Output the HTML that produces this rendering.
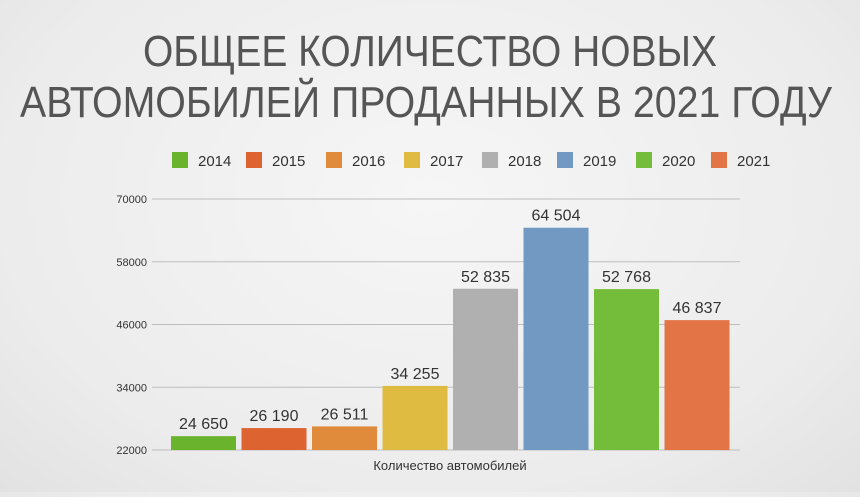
<!DOCTYPE html>
<html><head><meta charset="utf-8"><style>
html,body{margin:0;padding:0;}
body{width:860px;height:492px;overflow:hidden;background:radial-gradient(ellipse at 50% 40%,#f6f6f6 0%,#ececec 70%,#e2e2e2 100%);font-family:"Liberation Sans",sans-serif;}
</style></head><body>
<svg id="chart" width="860" height="492" xmlns="http://www.w3.org/2000/svg">
<g fill="#555" font-family="Liberation Sans, sans-serif" font-size="44">
<text x="143" y="66" textLength="574" lengthAdjust="spacingAndGlyphs">ОБЩЕЕ КОЛИЧЕСТВО НОВЫХ</text>
<text x="20" y="117" textLength="812" lengthAdjust="spacingAndGlyphs">АВТОМОБИЛЕЙ ПРОДАННЫХ В 2021 ГОДУ</text>
</g>
<g id="grid"></g>
<g id="bars"></g>
<g id="legend"></g>
<text x="450" y="470" text-anchor="middle" font-size="13" fill="#333">Количество автомобилей</text>
</svg>
<script>
const categories=["2014","2015","2016","2017","2018","2019","2020","2021"];
const values=[24650,26190,26511,34255,52835,64504,52768,46837];
const labels=["24 650","26 190","26 511","34 255","52 835","64 504","52 768","46 837"];
const ticks=[22000,34000,46000,58000,70000];
const colors=["#6ab42d","#dd6330","#e08a3c","#e0bb42","#b0b0b0","#7199c2","#74bd3a","#e27446"];
const legendX=[172,246,326,404,482,557,636,711];
const NS="http://www.w3.org/2000/svg";
const y0=450,y1=199,vmin=22000,vmax=70000;
const y=v=>y0-(v-vmin)/(vmax-vmin)*(y0-y1);
const bx=i=>171+i*70.5;
const bw=65;
function mk(t,a,p){const e=document.createElementNS(NS,t);for(const k in a)e.setAttribute(k,a[k]);p.appendChild(e);return e;}
const grid=document.getElementById('grid');
ticks.forEach(t=>{
 const l=mk('line',{x1:152,x2:740,y1:y(t),y2:y(t),stroke:'#bdbdbd','stroke-width':1},grid);
 
 
 const tx=mk('text',{x:147,y:y(t)+4,'text-anchor':'end','font-size':11,fill:'#333'},grid);
 tx.textContent=t;
 
 
});
const bars=document.getElementById('bars');
values.forEach((v,i)=>{
 const r=mk('rect',{x:bx(i),y:y(v),width:bw,height:y0-y(v),fill:colors[i]},bars);
 
 
 const t=mk('text',{x:bx(i)+bw/2,y:y(v)-7,'text-anchor':'middle','font-size':16,fill:'#333'},bars);
 t.textContent=labels[i];
 
 
});
const lg=document.getElementById('legend');
categories.forEach((c,i)=>{
 const g=mk('g',{},lg);
 
 
 mk('rect',{x:legendX[i],y:152,width:16,height:16,fill:colors[i]},g);
 const t=mk('text',{x:legendX[i]+26,y:166,'font-size':15,fill:'#333'},g);
 t.textContent=c;
});
</script>
</body></html>
